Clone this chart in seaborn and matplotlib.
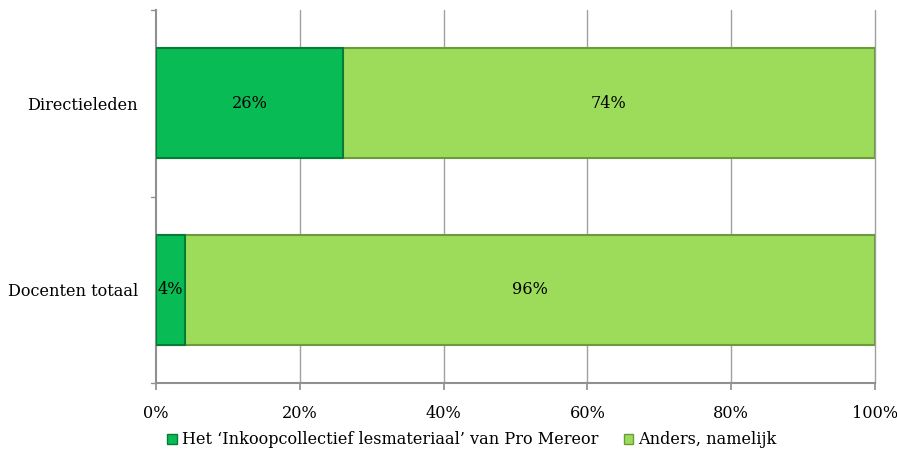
import matplotlib
matplotlib.use("Agg")
import matplotlib.pyplot as plt
import seaborn as sns
import pandas as pd
from matplotlib.patches import Patch

categories = ["Directieleden", "Docenten totaal"]
series_names = ["Het \u2018Inkoopcollectief lesmateriaal\u2019 van Pro Mereor", "Anders, namelijk"]
pro_mereor = [26, 4]
anders = [74, 96]
xtick_values = [0, 20, 40, 60, 80, 100]
xtick_labels = ["0%", "20%", "40%", "60%", "80%", "100%"]

dark = "#09BB54"
dark_edge = "#067C37"
light = "#9CDC5A"
light_edge = "#6C9B39"

sns.set_theme(style="white")
plt.rcParams["font.family"] = ["DejaVu Serif"]
plt.rcParams["text.color"] = "black"
plt.rcParams["xtick.color"] = "black"
plt.rcParams["ytick.color"] = "black"
FS = 11.6

df = pd.DataFrame({"cat": categories, "a": pro_mereor, "b": anders})
df["total"] = df["a"] + df["b"]

fig = plt.figure(figsize=(8.97, 4.55), dpi=100)
ax = fig.add_axes([156/897, 1-383/455, (875-156)/897, (383-10)/455])

for x in xtick_values[1:]:
    ax.axvline(x, color="#a0a0a0", lw=1, zorder=0, clip_on=False)

sns.barplot(data=df, y="cat", x="total", orient="h", color=light, width=0.59,
            edgecolor=light_edge, linewidth=1.5, ax=ax, zorder=2, saturation=1)
sns.barplot(data=df, y="cat", x="a", orient="h", color=dark, width=0.59,
            edgecolor=dark_edge, linewidth=1.5, ax=ax, zorder=3, saturation=1)

for i, (a, b) in enumerate(zip(pro_mereor, anders)):
    ax.text(a / 2, i, f"{a}%", ha="center", va="center", fontsize=FS, color="black", zorder=5)
    ax.text(a + b / 2, i, f"{b}%", ha="center", va="center", fontsize=FS, color="black", zorder=5)

ax.set_xlim(0, 100)
ax.set_ylim(1.5, -0.5)
ax.set_xticks(xtick_values)
ax.set_xticklabels(xtick_labels, fontsize=FS)
ax.set_yticks([0, 1])
ax.set_yticklabels(categories, fontsize=FS)
ax.tick_params(axis="y", length=0, pad=13, labelcolor="black")
ax.tick_params(axis="x", length=5, color="#909090", direction="out", bottom=True, pad=11, labelcolor="black")
for t in [-0.5, 0.5, 1.5]:
    ax.plot([-0.7, 0], [t, t], color="#909090", lw=1, clip_on=False, transform=ax.transData)
ax.set_xlabel("")
ax.set_ylabel("")
for s in ["top", "right"]:
    ax.spines[s].set_visible(False)
for s in ["left", "bottom"]:
    ax.spines[s].set_color("#909090")
    ax.spines[s].set_linewidth(1.5)

handles = [Patch(facecolor=dark, edgecolor=dark_edge), Patch(facecolor=light, edgecolor=light_edge)]
leg = fig.legend(handles, series_names, loc="center", bbox_to_anchor=(0.526, 1-440/455), ncol=2,
                 frameon=False, fontsize=FS, handlelength=0.6, handleheight=0.6, handletextpad=0.3,
                 columnspacing=1.6)
for t in leg.get_texts():
    t.set_color("black")

fig.savefig("out.png", dpi=100)
